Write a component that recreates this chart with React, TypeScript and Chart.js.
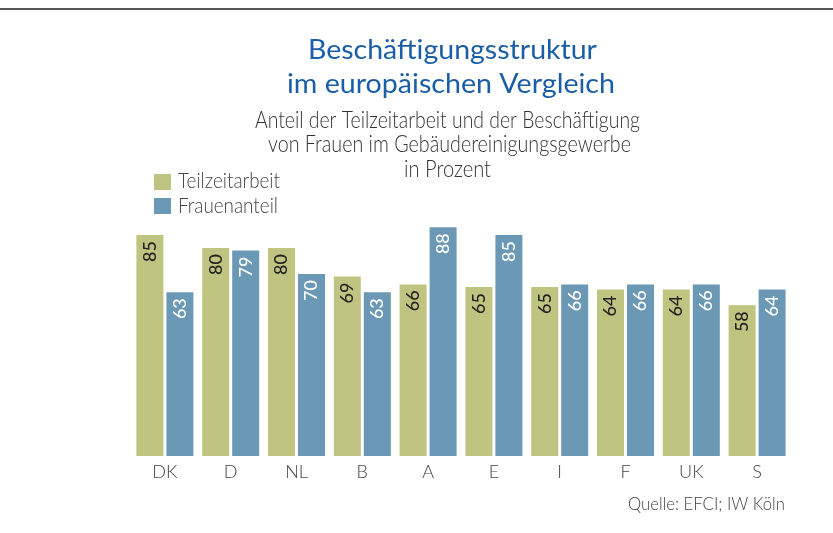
import React, { useEffect, useRef } from "react";
import { Chart, registerables } from "chart.js";

Chart.register(...registerables);

const categories = ["DK", "D", "NL", "B", "A", "E", "I", "F", "UK", "S"];
const teilzeitarbeit = [85, 80, 80, 69, 66, 65, 65, 64, 64, 58];
const frauenanteil = [63, 79, 70, 63, 88, 85, 66, 66, 66, 64];
const seriesNames = ["Teilzeitarbeit", "Frauenanteil"];
const titleLines = ["Beschäftigungsstruktur", "im europäischen Vergleich"];
const subtitleLines = [
  "Anteil der Teilzeitarbeit und der Beschäftigung",
  "von Frauen im Gebäudereinigungsgewerbe",
  "in Prozent",
];
const sourceText = "Quelle: EFCI; IW Köln";

const GREEN = "#bfc480";
const BLUE = "#6b99b5";
const FONT = "Lato, 'Open Sans', sans-serif";

function drawFit(
  ctx: CanvasRenderingContext2D,
  text: string,
  x: number,
  y: number,
  font: string,
  color: string,
  targetW: number,
  align: CanvasTextAlign
) {
  ctx.save();
  ctx.font = font;
  ctx.fillStyle = color;
  ctx.textAlign = align;
  ctx.textBaseline = "alphabetic";
  const w = ctx.measureText(text).width;
  const sx = w > 0 ? targetW / w : 1;
  ctx.translate(x, y);
  ctx.scale(sx, 1);
  ctx.fillText(text, 0, 0);
  ctx.restore();
}

const decorPlugin = {
  id: "decor",
  beforeDraw(chart: any) {
    const ctx = chart.ctx as CanvasRenderingContext2D;
    ctx.save();
    ctx.fillStyle = "#ffffff";
    ctx.fillRect(0, 0, chart.width, chart.height);
    ctx.fillStyle = "#555555";
    ctx.fillRect(0, 8, chart.width, 2);
    ctx.restore();
  },
  afterDraw(chart: any) {
    const ctx = chart.ctx as CanvasRenderingContext2D;
    // Title
    const tFont = `400 27px ${FONT}`;
    drawFit(ctx, titleLines[0], 452.5, 59, tFont, "#1a5ea8", 289, "center");
    drawFit(ctx, titleLines[1], 451, 93, tFont, "#1a5ea8", 328, "center");
    // Subtitle
    const sFont = `300 23px ${FONT}`;
    drawFit(ctx, subtitleLines[0], 447.5, 128, sFont, "#333333", 385, "center");
    drawFit(ctx, subtitleLines[1], 449.5, 152, sFont, "#333333", 363, "center");
    drawFit(ctx, subtitleLines[2], 447.5, 177, sFont, "#333333", 87, "center");
    // Legend
    const colors = [GREEN, BLUE];
    const boxY = [174, 198];
    const textY = [188, 213];
    const legW = [102, 100];
    for (let i = 0; i < 2; i++) {
      ctx.save();
      ctx.fillStyle = colors[i];
      ctx.fillRect(154, boxY[i], 17, 16);
      ctx.restore();
      drawFit(ctx, seriesNames[i], 178, textY[i], `300 21px ${FONT}`, "#444444", legW[i], "left");
    }
    // Source
    drawFit(ctx, sourceText, 785, 510, `300 18px ${FONT}`, "#444444", 157, "right");
  },
  afterDatasetsDraw(chart: any) {
    const ctx = chart.ctx as CanvasRenderingContext2D;
    chart.data.datasets.forEach((ds: any, di: number) => {
      const meta = chart.getDatasetMeta(di);
      meta.data.forEach((bar: any, i: number) => {
        const v = ds.data[i];
        ctx.save();
        ctx.translate(bar.x, bar.y + 6);
        ctx.rotate(-Math.PI / 2);
        ctx.font = `500 18px ${FONT}`;
        ctx.fillStyle = di === 0 ? "#222222" : "#ffffff";
        ctx.textAlign = "right";
        ctx.textBaseline = "middle";
        ctx.fillText(String(v), 0, 0);
        ctx.restore();
      });
    });
  },
};

export default function App() {
  const ref = useRef<HTMLCanvasElement | null>(null);
  useEffect(() => {
    if (!ref.current) return;
    const chart = new Chart(ref.current, {
      type: "bar",
      data: {
        labels: categories,
        datasets: [
          {
            label: seriesNames[0],
            data: teilzeitarbeit,
            backgroundColor: GREEN,
            borderWidth: 0,
            categoryPercentage: 0.912,
            barPercentage: 0.9,
          },
          {
            label: seriesNames[1],
            data: frauenanteil,
            backgroundColor: BLUE,
            borderWidth: 0,
            categoryPercentage: 0.912,
            barPercentage: 0.9,
          },
        ],
      },
      options: {
        responsive: false,
        animation: false,
        devicePixelRatio: 1,
        layout: { padding: { left: 132, right: 43, top: 196, bottom: 0 } },
        plugins: {
          legend: { display: false },
          title: { display: false },
          tooltip: { enabled: false },
        },
        scales: {
          x: {
            grid: { display: false },
            border: { display: false },
            ticks: {
              color: "#444444",
              font: { family: FONT, size: 18, weight: "300" as any },
              padding: -3,
            },
            afterFit: (scale: any) => {
              scale.height = 77;
            },
          },
          y: {
            display: false,
            min: 0,
            max: 100,
          },
        },
      },
      plugins: [decorPlugin],
    });
    return () => chart.destroy();
  }, []);
  return (
    <div style={{ position: "absolute", left: 0, top: 0, width: 833, height: 533 }}>
      <canvas ref={ref} width={833} height={533} />
    </div>
  );
}
